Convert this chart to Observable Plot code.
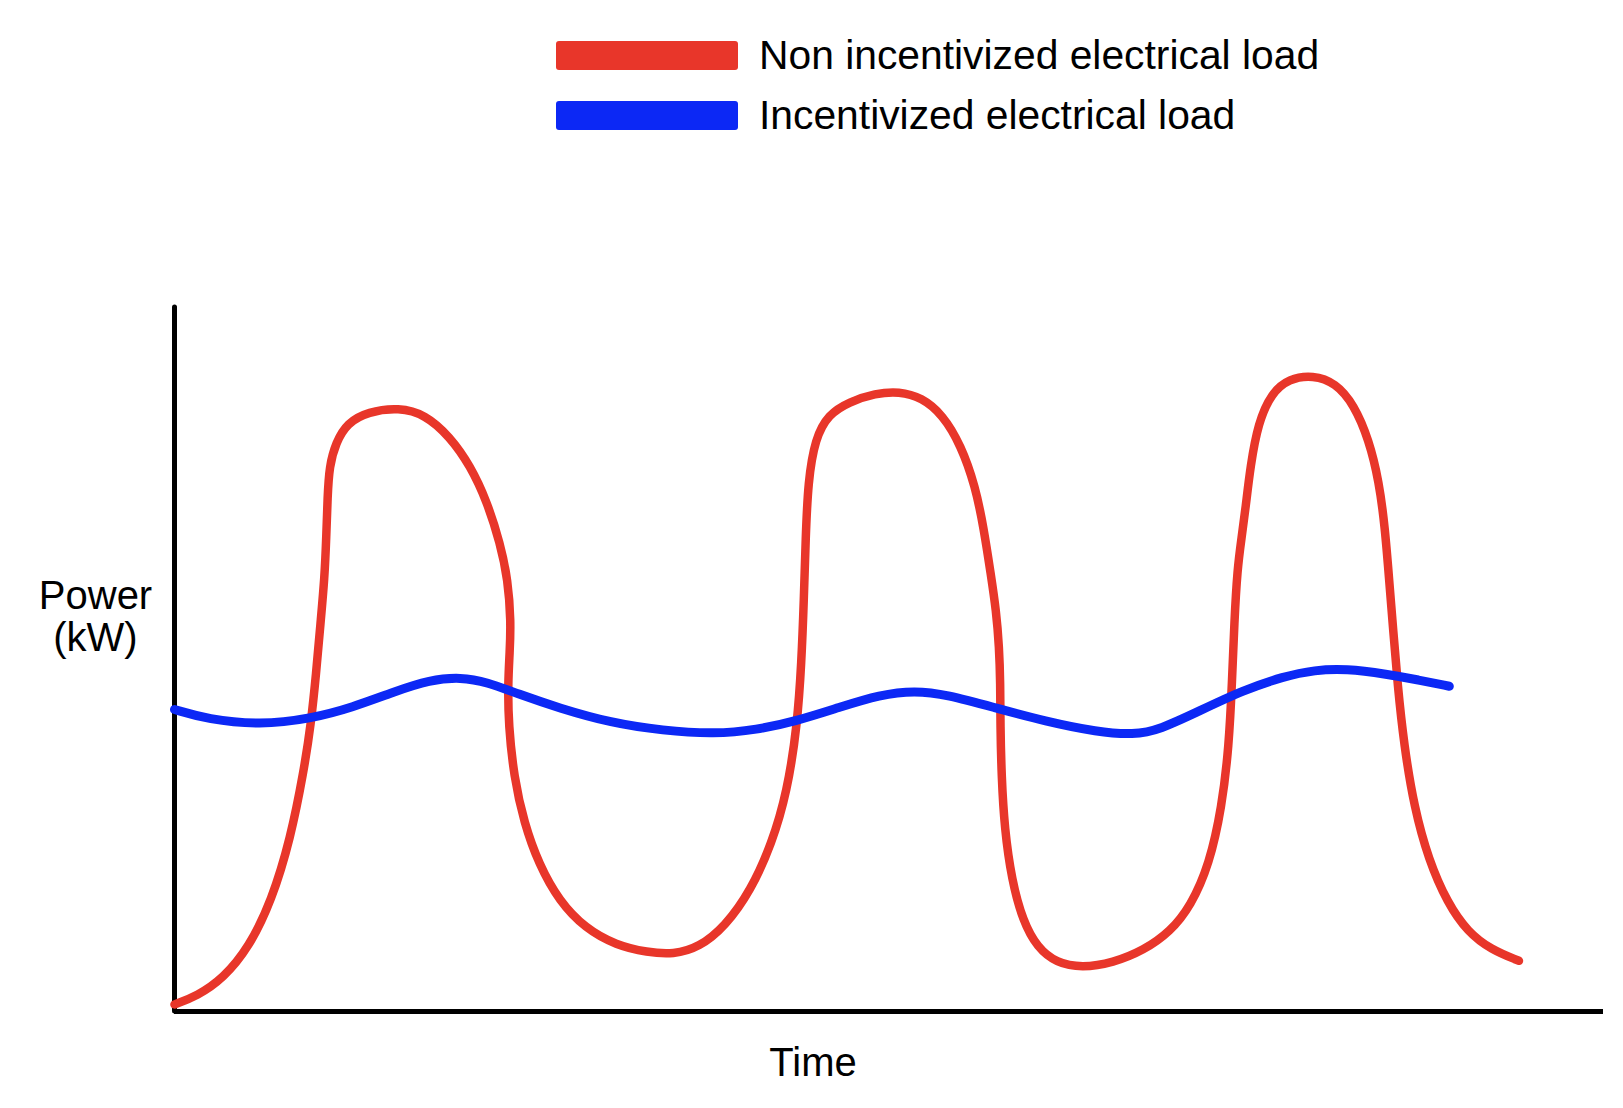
<!DOCTYPE html>
<html>
<head>
<meta charset="utf-8">
<script src="https://cdn.jsdelivr.net/npm/d3@7"></script>
<script src="https://cdn.jsdelivr.net/npm/@observablehq/plot@0.6"></script>
<style>
  html, body { margin: 0; padding: 0; background: #ffffff; }
  body { width: 1623px; height: 1108px; overflow: hidden; font-family: "Liberation Sans", Arial, Helvetica, sans-serif; }
  #legend { position: relative; height: 170px; }
  .row { position: absolute; left: 556px; display: flex; align-items: center; height: 29px; }
  .sw { width: 182px; height: 29px; border-radius: 3px; }
  .lab { margin-left: 21px; font-size: 40.8px; color: #000; line-height: 29px; white-space: nowrap; }
</style>
</head>
<body>
<div id="legend"></div>
<div id="chart"></div>
<script>
// Series names and colours
const seriesNames = ["Non incentivized electrical load", "Incentivized electrical load"];
const seriesColors = ["#e8362a", "#0c28f5"];

// Non incentivized load: time (h) and power (kW), traced in drawing order
const redTime = [0, 0.38, 0.82, 1.25, 1.63, 1.95, 2.17, 2.29, 2.38, 2.45, 2.52, 2.55, 2.57, 2.60, 2.71, 2.90, 3.25, 3.77, 4.21, 4.62, 4.97, 5.25, 5.47, 5.60, 5.65, 5.63, 5.60, 5.61, 5.70, 5.87, 6.12, 6.46, 6.90, 7.42, 7.94, 8.38, 8.81, 9.25, 9.68, 10.03, 10.29, 10.46, 10.53, 10.57, 10.60, 10.64, 10.76, 10.98, 11.33, 11.77, 12.17, 12.55, 12.90, 13.21, 13.45, 13.59, 13.71, 13.80, 13.85, 13.87, 13.87, 13.89, 13.94, 14.06, 14.25, 14.49, 14.81, 15.24, 15.76, 16.28, 16.72, 17.07, 17.38, 17.59, 17.71, 17.76, 17.80, 17.85, 17.92, 17.99, 18.07, 18.20, 18.42, 18.72, 19.12, 19.50, 19.81, 20.06, 20.23, 20.33, 20.40, 20.47, 20.54, 20.65, 20.82, 21.06, 21.38, 21.72, 22.11, 22.58];
const redPower = [0.10, 0.22, 0.47, 0.91, 1.57, 2.46, 3.41, 4.07, 4.81, 5.50, 6.15, 6.75, 7.30, 7.75, 8.08, 8.36, 8.52, 8.58, 8.48, 8.17, 7.75, 7.24, 6.65, 6.13, 5.54, 5.10, 4.66, 4.07, 3.34, 2.68, 2.09, 1.57, 1.18, 0.94, 0.84, 0.81, 0.91, 1.21, 1.72, 2.38, 3.12, 4.07, 4.96, 5.84, 6.72, 7.53, 8.14, 8.48, 8.66, 8.78, 8.81, 8.72, 8.48, 8.04, 7.46, 6.87, 6.21, 5.69, 5.18, 4.66, 4.07, 3.34, 2.60, 1.87, 1.28, 0.91, 0.69, 0.62, 0.69, 0.87, 1.13, 1.50, 2.09, 2.90, 3.78, 4.66, 5.54, 6.28, 6.72, 7.16, 7.75, 8.36, 8.78, 8.99, 9.04, 8.93, 8.62, 8.12, 7.53, 6.87, 6.13, 5.40, 4.66, 3.78, 2.90, 2.16, 1.54, 1.13, 0.88, 0.72];

// Incentivized load: time (h) and power (kW)
const blueTime = [0, 0.56, 1.43, 2.29, 2.99, 3.68, 4.29, 4.81, 5.25, 5.77, 6.46, 7.33, 8.20, 9.07, 9.77, 10.46, 11.16, 11.85, 12.43, 12.98, 13.76, 14.63, 15.50, 16.11, 16.54, 17.24, 17.94, 18.63, 19.15, 19.67, 20.37, 20.89, 21.41];
const bluePower = [4.29, 4.15, 4.07, 4.16, 4.32, 4.54, 4.71, 4.75, 4.68, 4.51, 4.31, 4.10, 3.99, 3.94, 4.00, 4.13, 4.32, 4.50, 4.56, 4.50, 4.32, 4.12, 3.97, 3.93, 4.00, 4.28, 4.56, 4.76, 4.85, 4.87, 4.79, 4.71, 4.62];

// Axis extents and labels
const timeDomain = [0, 24];
const powerDomain = [0, 10];
const xLabel = "Time";
const yLabel = "Power\n(kW)";

const red = redTime.map((t, i) => ({t, p: redPower[i]}));
const blue = blueTime.map((t, i) => ({t, p: bluePower[i]}));

// Legend
const legend = document.getElementById("legend");
seriesNames.forEach((name, i) => {
  const row = document.createElement("div");
  row.className = "row";
  row.style.top = (41 + i * 60) + "px";
  row.innerHTML = `<div class="sw" style="background:${seriesColors[i]}"></div><div class="lab">${name}</div>`;
  legend.appendChild(row);
});

const chart = Plot.plot({
  width: 1623,
  height: 938,
  marginLeft: 174,
  marginRight: 20,
  marginTop: 137,
  marginBottom: 97,
  style: {fontFamily: "'Liberation Sans', Arial, Helvetica, sans-serif", background: "#ffffff", color: "#000"},
  x: {domain: timeDomain, axis: null},
  y: {domain: powerDomain, axis: null},
  marks: [
    Plot.ruleX([timeDomain[0]], {y1: powerDomain[0], y2: powerDomain[1], stroke: "#000", strokeWidth: 5, strokeLinecap: "round"}),
    Plot.ruleY([powerDomain[0]], {x1: timeDomain[0], x2: timeDomain[1], stroke: "#000", strokeWidth: 5, strokeLinecap: "butt"}),
    Plot.line(red, {x: "t", y: "p", curve: "basis", stroke: seriesColors[0], strokeWidth: 8.5, strokeLinecap: "round", strokeLinejoin: "round"}),
    Plot.line(blue, {x: "t", y: "p", curve: "basis", stroke: seriesColors[1], strokeWidth: 9, strokeLinecap: "round", strokeLinejoin: "round"}),
    Plot.text([yLabel], {frameAnchor: "left", dx: -79, dy: -43, fontSize: 40, textAnchor: "middle", lineAnchor: "middle", lineHeight: 1.05, fill: "#000"}),
    Plot.text([xLabel], {frameAnchor: "bottom", dx: -76, dy: 52, fontSize: 40, textAnchor: "middle", lineAnchor: "middle", fill: "#000"})
  ]
});
document.getElementById("chart").appendChild(chart);
</script>
</body>
</html>
